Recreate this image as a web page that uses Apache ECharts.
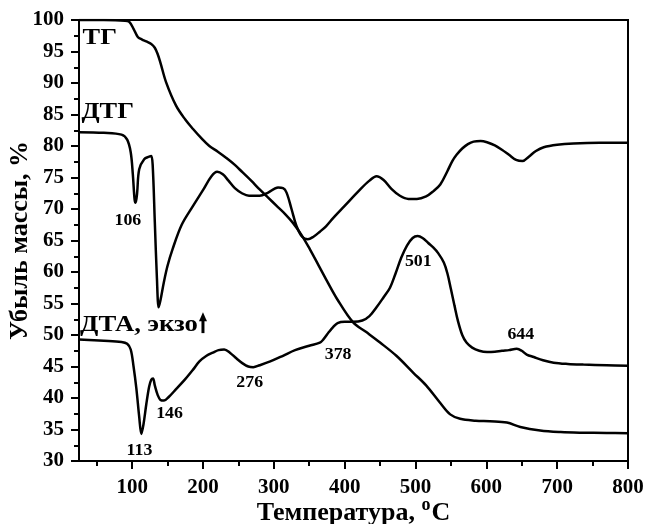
<!DOCTYPE html>
<html>
<head>
<meta charset="utf-8">
<script src="https://cdn.jsdelivr.net/npm/echarts@6/dist/echarts.min.js"></script>
<style>
html,body{margin:0;padding:0;background:#fff;}
#chart{width:647px;height:524px;}
</style>
</head>
<body>
<div id="chart"></div>
<script>
// ---- Data ----
const xMajorTicks = [100, 200, 300, 400, 500, 600, 700, 800];
const xMinorTicks = [50, 150, 250, 350, 450, 550, 650, 750];

const tgT = [25, 60, 90, 96, 102, 108, 114, 120, 127, 132, 136, 140, 148, 162, 175, 186, 198, 209, 221, 233, 245, 256, 268, 280, 292, 304, 316, 327, 339, 351, 363, 374, 390, 412, 430, 450, 473, 497, 515, 535, 549, 563, 585, 605, 629, 648, 676, 705, 733, 770, 800];
const tgV = [100, 100, 99.9, 99.7, 98.6, 97.3, 96.9, 96.6, 96.2, 95.6, 94.6, 93.2, 90.1, 86.4, 84.2, 82.7, 81.2, 80.0, 79.1, 78.1, 77.0, 75.8, 74.5, 73.1, 71.8, 70.5, 69.2, 67.8, 65.9, 63.6, 61.1, 58.8, 55.6, 52.0, 50.5, 48.8, 46.7, 44.0, 42.0, 39.2, 37.4, 36.7, 36.4, 36.3, 36.1, 35.4, 34.85, 34.6, 34.5, 34.45, 34.4];

const dtgT = [25, 60, 85, 93, 98, 101, 103.5, 105, 107, 110, 117, 124, 127, 129, 132, 135, 137.5, 140, 145, 150, 157, 170, 186, 200, 212, 220, 228, 236, 245, 255, 265, 280, 292, 306, 313, 318, 325, 332, 340, 348, 356, 365, 374, 384, 400, 421, 435, 445, 455, 466, 478, 490, 502, 515, 525, 535, 545, 552, 558, 566, 574, 582, 592, 601, 612, 622, 632, 642, 651, 660, 670, 681, 700, 723, 760, 800];
const dtgV = [82.2, 82.1, 81.8, 81.0, 79.0, 75.5, 71.5, 71.0, 72.5, 76.3, 77.9, 78.3, 78.4, 77.0, 68.0, 59.0, 54.4, 55.5, 58.5, 61.0, 63.6, 67.5, 70.5, 73.0, 75.2, 75.9, 75.5, 74.5, 73.3, 72.5, 72.1, 72.1, 72.6, 73.4, 73.3, 72.6, 70.0, 67.3, 65.6, 65.2, 65.6, 66.4, 67.3, 68.6, 70.5, 73.0, 74.5, 75.2, 74.6, 73.2, 72.1, 71.6, 71.6, 72.0, 72.8, 73.9, 76.0, 77.6, 78.6, 79.6, 80.3, 80.7, 80.8, 80.6, 80.1, 79.4, 78.6, 77.8, 77.6, 78.3, 79.2, 79.8, 80.2, 80.4, 80.5, 80.5];

const dtaT = [25, 60, 85, 93, 98, 102, 106, 110, 113, 116, 120, 124, 127, 129.5, 132, 136, 140, 145, 152, 162, 175, 186, 195, 205, 214, 222, 230, 238, 247, 256, 264, 271, 280, 295, 313, 330, 350, 365, 370, 378, 384, 390, 400, 412, 425, 435, 445, 455, 464, 472, 480, 488, 496, 503, 510, 518, 525, 532, 540, 545, 550, 555, 560, 566, 572, 580, 590, 601, 612, 622, 632, 643, 650, 657, 667, 680, 695, 715, 737, 770, 800];
const dtaV = [49.3, 49.1, 48.9, 48.6, 47.7, 45.0, 41.5, 37.0, 34.3, 35.8, 39.0, 41.8, 42.9, 43.1, 42.0, 40.5, 39.7, 39.6, 40.2, 41.4, 43.0, 44.5, 45.8, 46.7, 47.2, 47.6, 47.7, 47.2, 46.3, 45.5, 45.0, 44.9, 45.2, 45.8, 46.7, 47.6, 48.3, 48.8, 49.3, 50.5, 51.3, 51.9, 52.1, 52.1, 52.3, 53.0, 54.4, 56.0, 57.5, 59.8, 62.3, 64.2, 65.4, 65.7, 65.4, 64.6, 63.9, 63.0, 61.5, 59.8, 57.3, 54.7, 52.2, 50.0, 48.8, 48.0, 47.5, 47.3, 47.35, 47.5, 47.6, 47.8, 47.5, 46.9, 46.5, 46.0, 45.6, 45.4, 45.3, 45.2, 45.1];

// Text annotations (text, anchor in data coordinates)
const peakLabels = ['106', '113', '146', '276', '378', '501', '644'];
const peakLabelAt = [[94, 68.2], [110.3, 31.6], [152.8, 37.5], [266, 42.5], [390.8, 46.9], [504, 61.6], [648.7, 50.1]];
const curveNames = ['ТГ', 'ДТГ', 'ДТА, экзо'];
const curveNameAt = [[30, 97.1], [28.4, 85.4], [26.5, 51.6]];

const FONT = '"Liberation Serif", "Times New Roman", serif';

function pairs(xs, ys) { return xs.map((x, i) => [x, ys[i]]); }

const chart = echarts.init(document.getElementById('chart'), null, { renderer: 'canvas' });

const lineStyle = { color: '#000', width: 2.5 };
function mkSeries(name, xs, ys) {
  return {
    name: name, type: 'line', xAxisIndex: 0, yAxisIndex: 0,
    data: pairs(xs, ys), showSymbol: false, symbol: 'none',
    smooth: 0.35,
    lineStyle: lineStyle, itemStyle: { color: '#000' }, silent: true, animation: false
  };
}

chart.setOption({
  animation: false,
  backgroundColor: '#fff',
  grid: { left: 79, right: 19, top: 20, bottom: 63, show: true, borderColor: '#000', borderWidth: 2, containLabel: false, outerBoundsMode: 'none' },
  xAxis: [
    {
      type: 'value', min: 25, max: 800, position: 'bottom',
      name: 'Температура, {sup|o}C', nameLocation: 'middle', nameGap: 35, nameMoveOverlap: false,
      nameTextStyle: {
        fontFamily: FONT, fontWeight: 'bold', fontSize: 26, color: '#000',
        rich: { sup: { fontFamily: FONT, fontWeight: 'bold', fontSize: 18, color: '#000', verticalAlign: 'top', padding: [0, 1, 16, 0] } }
      },
      axisLine: { show: true, lineStyle: { color: '#000', width: 2 } },
      axisTick: { show: true, customValues: xMajorTicks, length: 8, lineStyle: { color: '#000', width: 2 } },
      axisLabel: { show: true, customValues: xMajorTicks, margin: 16, fontFamily: FONT, fontWeight: 'bold', fontSize: 21, color: '#000' },
      splitLine: { show: false }
    },
    {
      type: 'value', min: 25, max: 800, position: 'bottom', offset: 0,
      axisLine: { show: false },
      axisTick: { show: true, customValues: xMinorTicks, length: 5, lineStyle: { color: '#000', width: 2 } },
      axisLabel: { show: false, customValues: xMinorTicks },
      splitLine: { show: false }
    }
  ],
  yAxis: {
    type: 'value', min: 30, max: 100, interval: 5,
    name: 'Убыль массы, %', nameLocation: 'middle', nameGap: 46, nameRotate: 90, nameMoveOverlap: false,
    nameTextStyle: { fontFamily: FONT, fontWeight: 'bold', fontSize: 26, color: '#000' },
    axisLine: { show: true, lineStyle: { color: '#000', width: 2 } },
    axisTick: { show: true, length: 8, lineStyle: { color: '#000', width: 2 } },
    minorTick: { show: true, splitNumber: 2, length: 5, lineStyle: { color: '#000', width: 2 } },
    axisLabel: { margin: 15, fontFamily: FONT, fontWeight: 'bold', fontSize: 21, color: '#000' },
    splitLine: { show: false }
  },
  series: [
    mkSeries('ТГ', tgT, tgV),
    mkSeries('ДТГ', dtgT, dtgV),
    mkSeries('ДТА', dtaT, dtaV)
  ]
});

function px(pt) { return chart.convertToPixel({ xAxisIndex: 0, yAxisIndex: 0 }, pt); }

const graphics = [];
peakLabels.forEach((t, i) => {
  const p = px(peakLabelAt[i]);
  graphics.push({
    type: 'text', x: p[0], y: p[1], silent: true, scaleX: 1.05,
    style: { text: t, fill: '#000', font: 'bold 17px ' + FONT, textAlign: 'center', textVerticalAlign: 'middle' }
  });
});
const nameSizes = [24, 24, 23];
const nameStretch = [1.1, 1.1, 1.16];
curveNames.forEach((t, i) => {
  const p = px(curveNameAt[i]);
  graphics.push({
    type: 'text', x: p[0], y: p[1], silent: true, scaleX: nameStretch[i],
    style: { text: t, fill: '#000', font: 'bold ' + nameSizes[i] + 'px ' + FONT, textAlign: 'left', textVerticalAlign: 'middle' }
  });
});
// exo arrow
const aTop = px([200, 53.6]);
const aBot = px([200, 50.3]);
graphics.push({
  type: 'line', silent: true,
  shape: { x1: aBot[0], y1: aBot[1], x2: aTop[0], y2: aTop[1] + 5 },
  style: { stroke: '#000', lineWidth: 3 }
});
graphics.push({
  type: 'polygon', silent: true,
  shape: { points: [[aTop[0], aTop[1]], [aTop[0] - 4, aTop[1] + 9], [aTop[0] + 4, aTop[1] + 9]] },
  style: { fill: '#000' }
});
chart.setOption({ graphic: graphics });
</script>
</body>
</html>
